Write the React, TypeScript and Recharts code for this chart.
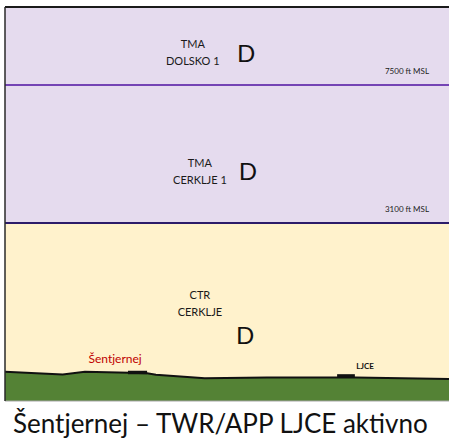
import React from "react";
import {
  ComposedChart,
  Area,
  XAxis,
  YAxis,
  ReferenceLine,
  ReferenceDot,
  ReferenceArea,
} from "recharts";

// terrain profile (distance along section, elevation in ft)
const TERRAIN_DIST = [0, 13, 18, 28, 32, 34, 45, 59, 75, 79, 100];
const TERRAIN_ELEV = [500, 474, 500, 490, 485, 470, 436, 445, 445, 443, 429];

// vertical limits (ft MSL)
const SECTION_TOP = 10830;
const SECTION_BOTTOM = 250;
const TMA_DOLSKO_BASE = 7500;
const TMA_CERKLJE_BASE = 3100;

const ZONE_NAMES = [
  ["TMA", "DOLSKO 1"],
  ["TMA", "CERKLJE 1"],
  ["CTR", "CERKLJE"],
];
const ZONE_CLASSES = ["D", "D", "D"];
const ZONE_NAME_AT = [
  [42.3, 8836],
  [43.9, 4548],
  [43.9, 1425],
];
const ZONE_CLASS_AT = [
  [54.3, 8793],
  [54.7, 4563],
  [54.1, 949],
];

const LIMIT_LABELS = ["7500 ft MSL", "3100 ft MSL"];
const LIMIT_VALUES = [TMA_DOLSKO_BASE, TMA_CERKLJE_BASE];

const AIRFIELD_NAMES = ["Šentjernej", "LJCE"];
const AIRFIELD_FROM = [27.7, 74.8];
const AIRFIELD_TO = [32.0, 78.8];
const AIRFIELD_TOP = [510, 476];
const AIRFIELD_BASE = [476, 441];
const AIRFIELD_LABEL_AT = [
  [24.8, 646],
  [81.1, 558],
];

const CAPTION = "Šentjernej – TWR/APP LJCE aktivno";

const FONT = "Lato, 'Open Sans', sans-serif";

const rows = TERRAIN_DIST.map((d, i) => ({
  dist: d,
  ground: TERRAIN_ELEV[i],
  ctr: TMA_CERKLJE_BASE,
  tma: SECTION_TOP,
}));

const App = () => {
  return (
    <div style={{ position: "absolute", left: 0, top: 0, width: 449, height: 440, background: "#fff" }}>
      <ComposedChart
        width={449}
        height={403}
        data={rows}
        margin={{ top: 7, right: 0, bottom: 2, left: 5 }}
      >
        <XAxis type="number" dataKey="dist" domain={[0, 100]} hide />
        <YAxis type="number" scale="sqrt" domain={[SECTION_BOTTOM, SECTION_TOP]} hide />

        <Area
          type="linear"
          dataKey="tma"
          fill="#E5DBEE"
          fillOpacity={1}
          stroke="none"
          baseValue="dataMin"
          dot={false}
          activeDot={false}
          isAnimationActive={false}
        />
        <Area
          type="linear"
          dataKey="ctr"
          fill="#FFF2CC"
          fillOpacity={1}
          stroke="none"
          baseValue="dataMin"
          dot={false}
          activeDot={false}
          isAnimationActive={false}
        />
        <Area
          type="linear"
          dataKey="ground"
          fill="#548235"
          fillOpacity={1}
          stroke="#111"
          strokeWidth={2}
          baseValue="dataMin"
          dot={false}
          activeDot={false}
          isAnimationActive={false}
        />

        <ReferenceLine y={TMA_DOLSKO_BASE} stroke="#7444B4" strokeWidth={2} />
        <ReferenceLine y={TMA_CERKLJE_BASE} stroke="#2C1C6A" strokeWidth={2} />
        <ReferenceLine y={SECTION_TOP} stroke="#1a1a1a" strokeWidth={2} />
        <ReferenceLine y={SECTION_BOTTOM} stroke="#a6a6a6" strokeWidth={1} />
        <ReferenceLine x={0} stroke="#2a2a2a" strokeWidth={1.5} />

        {AIRFIELD_NAMES.map((name, i) => (
          <ReferenceArea
            key={name}
            x1={AIRFIELD_FROM[i]}
            x2={AIRFIELD_TO[i]}
            y1={AIRFIELD_BASE[i]}
            y2={AIRFIELD_TOP[i]}
            fill="#111"
            fillOpacity={1}
            stroke="none"
            ifOverflow="visible"
          />
        ))}

        {ZONE_NAMES.map((lines, i) => (
          <ReferenceDot
            key={"zn" + i}
            x={ZONE_NAME_AT[i][0]}
            y={ZONE_NAME_AT[i][1]}
            r={0}
            shape={(p: any) => (
              <text
                x={p.cx}
                y={p.cy}
                textAnchor="middle"
                fontFamily={FONT}
                fontSize={11}
                fill="#1a1a1a"
              >
                <tspan x={p.cx} dy={-8.5} dominantBaseline="central">
                  {lines[0]}
                </tspan>
                <tspan x={p.cx} dy={17} dominantBaseline="central">
                  {lines[1]}
                </tspan>
              </text>
            )}
          />
        ))}

        {ZONE_CLASSES.map((c, i) => (
          <ReferenceDot
            key={"zc" + i}
            x={ZONE_CLASS_AT[i][0]}
            y={ZONE_CLASS_AT[i][1]}
            r={0}
            shape={(p: any) => (
              <text
                x={p.cx}
                y={p.cy}
                textAnchor="middle"
                dominantBaseline="central"
                fontFamily={FONT}
                fontSize={24}
                fill="#111"
              >
                {c}
              </text>
            )}
          />
        ))}

        {LIMIT_LABELS.map((label, i) => (
          <ReferenceDot
            key={label}
            x={100}
            y={LIMIT_VALUES[i]}
            r={0}
            shape={(p: any) => (
              <text
                x={p.cx - 20}
                y={p.cy - 14}
                textAnchor="end"
                dominantBaseline="central"
                fontFamily={FONT}
                fontSize={8}
                fill="#222"
              >
                {label}
              </text>
            )}
          />
        ))}

        {AIRFIELD_NAMES.map((name, i) => (
          <ReferenceDot
            key={"al" + name}
            x={AIRFIELD_LABEL_AT[i][0]}
            y={AIRFIELD_LABEL_AT[i][1]}
            r={0}
            shape={(p: any) => (
              <text
                x={p.cx}
                y={p.cy}
                textAnchor="middle"
                dominantBaseline="central"
                fontFamily={FONT}
                fontSize={i === 0 ? 12 : 8}
                fontWeight={i === 0 ? 400 : 700}
                fill={i === 0 ? "#C00000" : "#111"}
              >
                {name}
              </text>
            )}
          />
        ))}
      </ComposedChart>
      <div
        style={{
          position: "absolute",
          left: 13,
          top: 408,
          fontFamily: FONT,
          fontSize: 26,
          lineHeight: "31px",
          color: "#111",
          whiteSpace: "nowrap",
        }}
      >
        {CAPTION}
      </div>
    </div>
  );
};

export default App;
